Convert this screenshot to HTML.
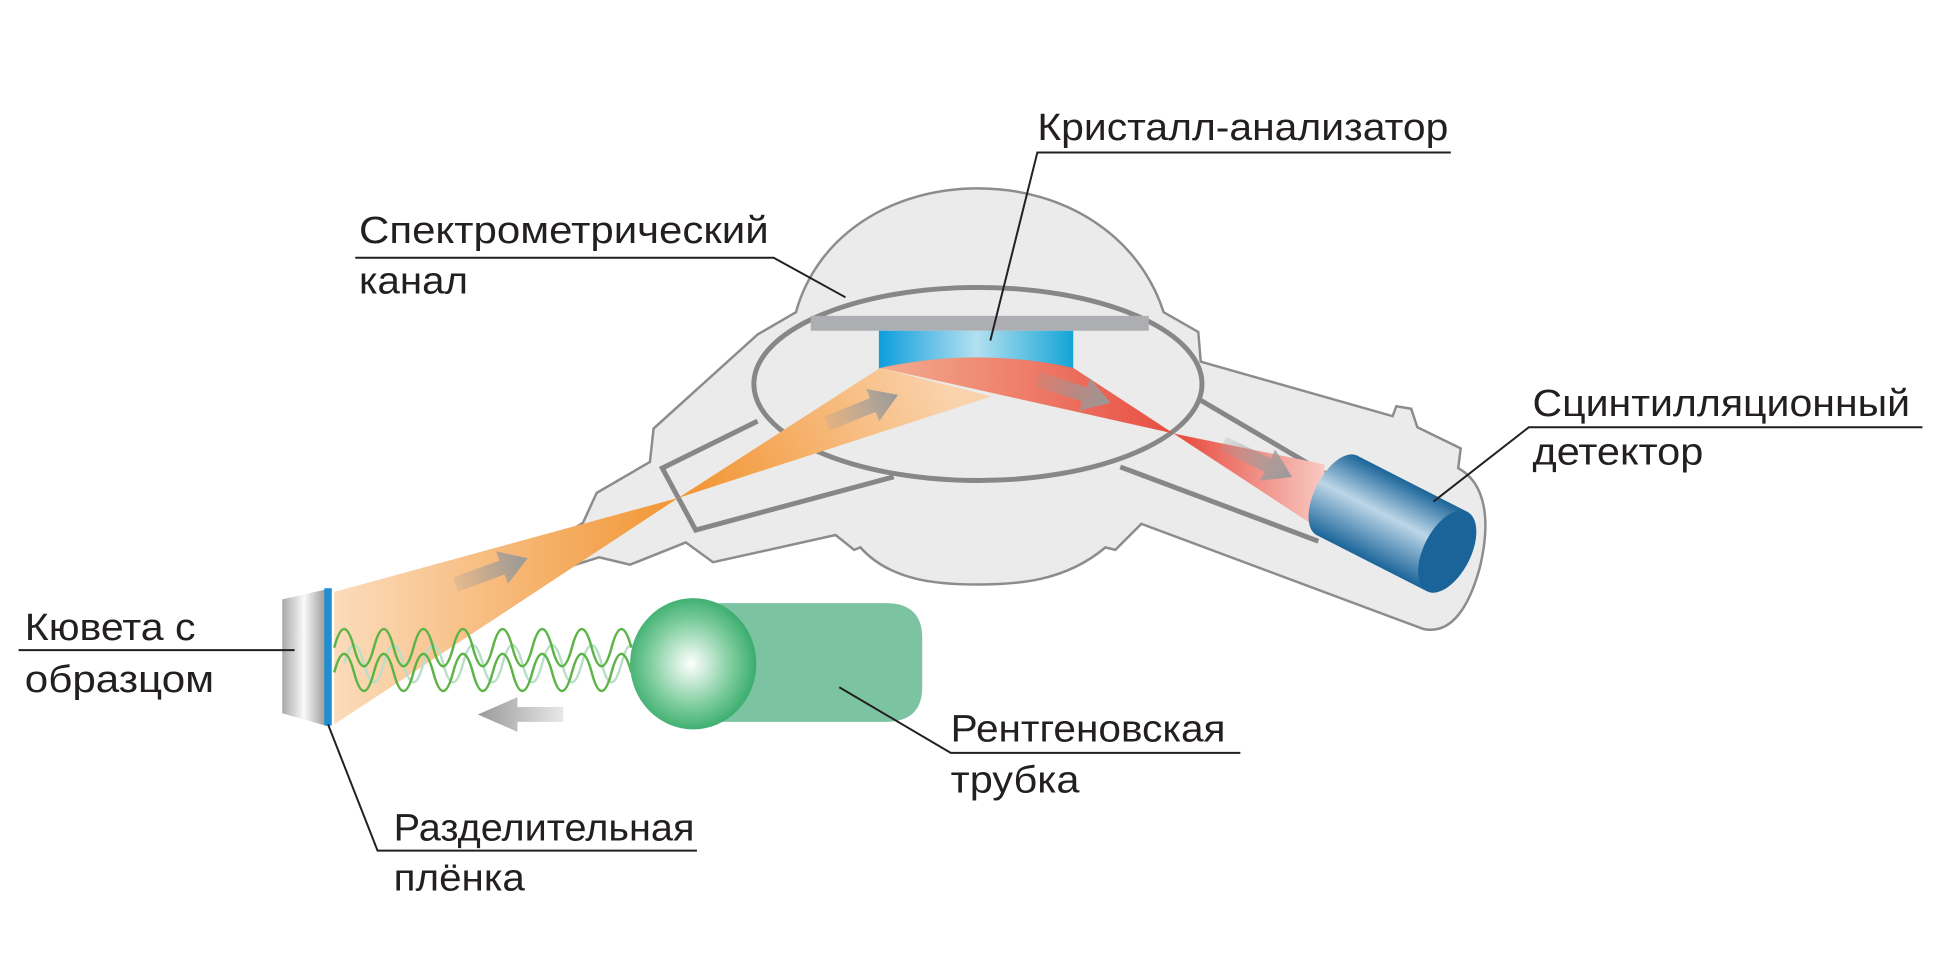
<!DOCTYPE html>
<html><head><meta charset="utf-8"><style>
html,body{margin:0;padding:0;background:#fff;}
svg{display:block;}
text{font-family:"Liberation Sans","DejaVu Sans",sans-serif;font-size:31px;fill:#231f20;}
</style></head><body>
<svg width="1941" height="966" viewBox="0 0 1568 780" xmlns="http://www.w3.org/2000/svg">
<defs>
<linearGradient id="crys" x1="0" x2="1"><stop offset="0" stop-color="#0d9ddd"/><stop offset="0.5" stop-color="#b3e0f0"/><stop offset="1" stop-color="#14a5d6"/></linearGradient>
<linearGradient id="or1" x1="270" y1="0" x2="560" y2="0" gradientUnits="userSpaceOnUse"><stop offset="0" stop-color="#fbdcbc"/><stop offset="1" stop-color="#f2922e"/></linearGradient>
<linearGradient id="or2" x1="548" y1="402" x2="760" y2="300" gradientUnits="userSpaceOnUse"><stop offset="0" stop-color="#f2922e"/><stop offset="1" stop-color="#fad3ad"/></linearGradient>
<linearGradient id="red1" x1="711" y1="0" x2="948" y2="0" gradientUnits="userSpaceOnUse"><stop offset="0" stop-color="#f4a88a"/><stop offset="1" stop-color="#e8453a"/></linearGradient>
<linearGradient id="red2" x1="948" y1="0" x2="1075" y2="0" gradientUnits="userSpaceOnUse"><stop offset="0" stop-color="#e8453a"/><stop offset="1" stop-color="#f8d0c8"/></linearGradient>
<linearGradient id="arr" x1="0" x2="1"><stop offset="0" stop-color="#9a9a9a" stop-opacity="0.2"/><stop offset="1" stop-color="#999"/></linearGradient>
<linearGradient id="arrL" x1="1" x2="0"><stop offset="0" stop-color="#e8e8e8"/><stop offset="1" stop-color="#999"/></linearGradient>
<linearGradient id="cuv" x1="0" x2="1"><stop offset="0" stop-color="#a8a8a8"/><stop offset="0.5" stop-color="#fafafa"/><stop offset="1" stop-color="#9a9a9a"/></linearGradient>
<radialGradient id="sph" cx="0.48" cy="0.5" r="0.55"><stop offset="0" stop-color="#ffffff"/><stop offset="0.6" stop-color="#7ccc9c"/><stop offset="1" stop-color="#2fa866"/></radialGradient>
<linearGradient id="cyl" x1="0" y1="0" x2="0" y2="1"><stop offset="0" stop-color="#1a6499"/><stop offset="0.45" stop-color="#bcd6e8"/><stop offset="1" stop-color="#1a6499"/></linearGradient>
</defs>

<path d="M452,460 L446,438 L471,422 L482,398 L525,373 L528,346 L612,270 L643,252 C660,190 720,152 790,152 C860,152 920,190 940,252 L968,268 L970,292 L1125,336 L1128,328 L1140,330 L1145,345 L1180,362 L1178,378 C1200,390 1205,420 1195,460 C1185,495 1170,512 1150,508 L922,423 L901,444 L893,442 C860,470 820,472 790,472 C760,472 720,470 695,442 L690,444 L675,432 L576,454 L554,438 L509,456 L484,450 Z" fill="#eaebea" stroke="#8c8c8c" stroke-width="2"/>
<polyline points="612,340 535,378 562,428 722,385" fill="none" stroke="#878787" stroke-width="4"/>
<polyline points="968,322 1075,385" fill="none" stroke="#878787" stroke-width="4"/>
<polyline points="905,377 1065,437" fill="none" stroke="#878787" stroke-width="4"/>
<ellipse cx="790" cy="310" rx="181" ry="78" fill="none" stroke="#878787" stroke-width="4"/>
<rect x="655" y="255" width="273" height="12" fill="#adaeb1"/>
<path d="M710,267 H867 V298 Q790,280 710,298 Z" fill="url(#crys)"/>

<path d="M270,478 L548,402 L270,585 Z" fill="url(#or1)"/>
<path d="M548,402 L711,297 L801,320 Z" fill="url(#or2)"/>
<path d="M711,297 Q790,280 867,297 L948,350 Z" fill="url(#red1)" opacity="0.95"/>
<path d="M948,350 L1070,375 L1070,430 Z" fill="url(#red2)"/>

<g fill="url(#arr)">
<polygon points="0,-6 40,-6 40,-14 62,0 40,14 40,6 0,6" transform="translate(368,472) rotate(-20)"/>
<polygon points="0,-6 40,-6 40,-14 62,0 40,14 40,6 0,6" transform="translate(668,342) rotate(-22)"/>
<polygon points="0,-6 40,-6 40,-14 62,0 40,14 40,6 0,6" transform="translate(838,306) rotate(18)"/>
<polygon points="0,-6 40,-6 40,-14 62,0 40,14 40,6 0,6" transform="translate(988,358) rotate(26)"/>
</g>
<polygon points="455,571 418,571 418,563 386,577 418,591 418,583 455,583" fill="url(#arrL)"/>

<polygon points="228,484 263,476 263,586 228,576" fill="url(#cuv)"/>
<rect x="262" y="475" width="6" height="111" fill="#1f8fd0"/>

<g fill="none" stroke-width="2">
<path d="M278,536 q8,-30 16,0 t16,0 t16,0 t16,0 t16,0 t16,0 t16,0 t16,0 t16,0 t16,0 t16,0 t16,0 t16,0 t16,0 t16,0" stroke="#b9dfc8"/>
<path d="M270,523 q8,-30 16,0 t16,0 t16,0 t16,0 t16,0 t16,0 t16,0 t16,0 t16,0 t16,0 t16,0 t16,0 t16,0 t16,0 t16,0" stroke="#5cb446"/>
<path d="M270,543 q8,-30 16,0 t16,0 t16,0 t16,0 t16,0 t16,0 t16,0 t16,0 t16,0 t16,0 t16,0 t16,0 t16,0 t16,0 t16,0" stroke="#5cb446"/>
</g>

<path d="M580,487 H715 Q745,487 745,515 V555 Q745,583 715,583 H580 Z" fill="#7cc3a2"/>
<ellipse cx="560" cy="536" rx="51" ry="53" fill="url(#sph)"/>

<g transform="translate(1080,400) rotate(27)">
<rect x="0" y="-36" width="100" height="72" fill="url(#cyl)"/>
<ellipse cx="0" cy="0" rx="18" ry="36" fill="url(#cyl)"/>
<ellipse cx="100" cy="0" rx="19" ry="36" fill="#1a6499"/>
</g>

<g stroke="#231f20" stroke-width="1.6" fill="none">
<polyline points="1172,123 838,123 800,275"/>
<polyline points="287,208 625,208 683,240"/>
<polyline points="1553,345 1235,345 1158,405"/>
<polyline points="15,525 238,525"/>
<polyline points="1002,608 768,608 678,555"/>
<polyline points="563,687 305,687 265,585"/>
</g>

<text x="838" y="113" textLength="332" lengthAdjust="spacingAndGlyphs">Кристалл-анализатор</text>
<text x="290" y="196" textLength="331" lengthAdjust="spacingAndGlyphs">Спектрометрический</text>
<text x="290" y="237" textLength="88" lengthAdjust="spacingAndGlyphs">канал</text>
<text x="1238" y="336" textLength="305" lengthAdjust="spacingAndGlyphs">Сцинтилляционный</text>
<text x="1238" y="375" textLength="138" lengthAdjust="spacingAndGlyphs">детектор</text>
<text x="20" y="517" textLength="138" lengthAdjust="spacingAndGlyphs">Кювета с</text>
<text x="20" y="559" textLength="153" lengthAdjust="spacingAndGlyphs">образцом</text>
<text x="768" y="599" textLength="222" lengthAdjust="spacingAndGlyphs">Рентгеновская</text>
<text x="768" y="640" textLength="104" lengthAdjust="spacingAndGlyphs">трубка</text>
<text x="318" y="679" textLength="243" lengthAdjust="spacingAndGlyphs">Разделительная</text>
<text x="318" y="719" textLength="106" lengthAdjust="spacingAndGlyphs">плёнка</text>
</svg>
</body></html>
